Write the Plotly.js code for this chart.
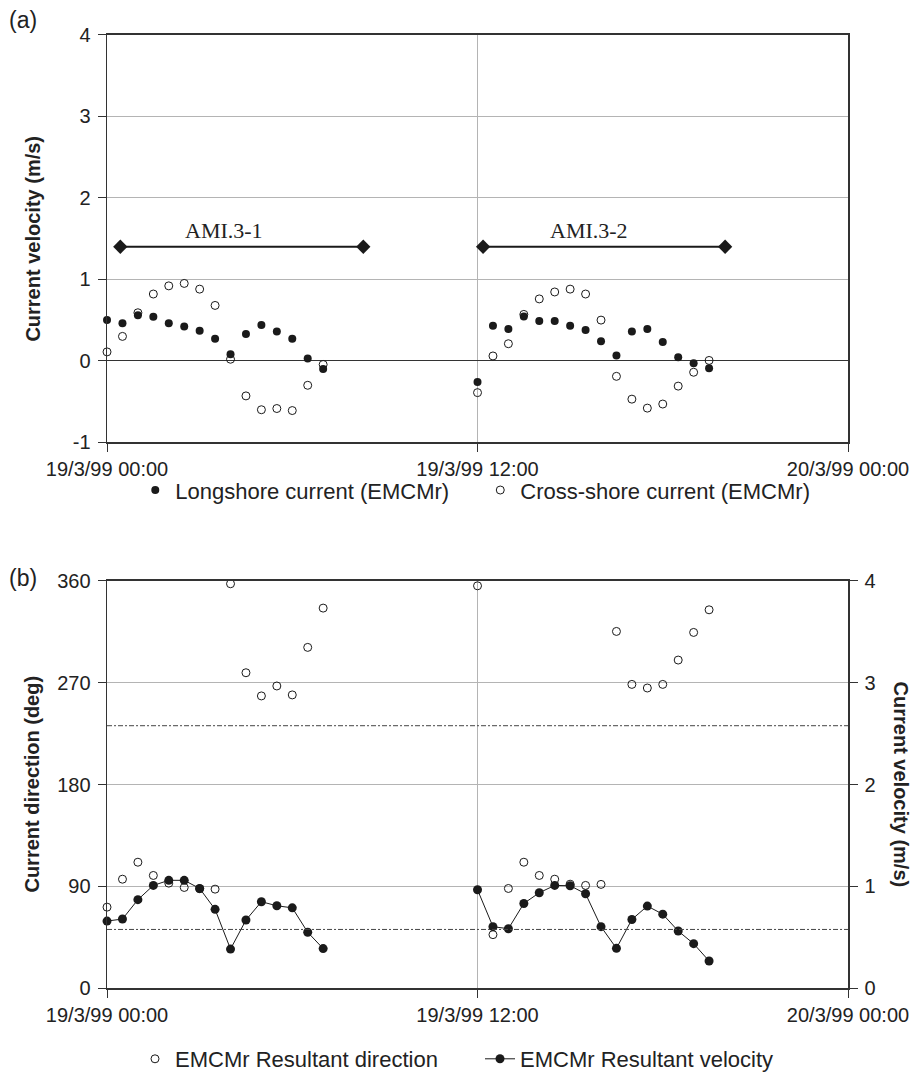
<!DOCTYPE html>
<html>
<head>
<meta charset="utf-8">
<script src="https://cdn.plot.ly/plotly-3.0.1.min.js"></script>
<style>
html,body{margin:0;padding:0;background:#fff;}
#chart{width:914px;height:1080px;}
</style>
</head>
<body>
<div id="chart"></div>
<script>
// ---- data (hours after 19/3/99 00:00) ----
var times1 = [0, 0.5, 1, 1.5, 2, 2.5, 3, 3.5, 4, 4.5, 5, 5.5, 6, 6.5, 7];
var times2 = [12, 12.5, 13, 13.5, 14, 14.5, 15, 15.5, 16, 16.5, 17, 17.5, 18, 18.5, 19, 19.5];

var longshore1 = [0.50, 0.46, 0.56, 0.54, 0.46, 0.42, 0.37, 0.27, 0.08, 0.33, 0.44, 0.36, 0.27, 0.03, -0.10];
var crossshore1 = [0.11, 0.30, 0.59, 0.82, 0.92, 0.95, 0.88, 0.68, 0.02, -0.43, -0.60, -0.585, -0.61, -0.30, -0.045];
var longshore2 = [-0.26, 0.43, 0.39, 0.545, 0.49, 0.49, 0.43, 0.38, 0.24, 0.065, 0.36, 0.39, 0.23, 0.045, -0.03, -0.09];
var crossshore2 = [-0.39, 0.06, 0.21, 0.57, 0.76, 0.845, 0.88, 0.82, 0.50, -0.19, -0.47, -0.58, -0.53, -0.31, -0.14, 0.005];

var direction1 = [71.7, 96.4, 111.4, 99.7, 92.9, 89.1, 88, 87.6, 357.4, 278.8, 258.3, 267.1, 259.2, 301.2, 335.9];
var velocity1 = [0.66, 0.68, 0.87, 1.01, 1.06, 1.06, 0.98, 0.775, 0.385, 0.67, 0.85, 0.81, 0.79, 0.55, 0.39];
var direction2 = [355.6, 47.4, 88.2, 111.4, 99.7, 96.4, 92, 90.9, 91.8, 315.3, 268.5, 265.3, 268.5, 290, 314.4, 334.4];
var velocity2 = [0.967, 0.605, 0.585, 0.833, 0.938, 1.01, 1.007, 0.928, 0.605, 0.392, 0.676, 0.807, 0.728, 0.562, 0.438, 0.268];

var amiLabels = ['AMI.3-1', 'AMI.3-2'];
var amiStart = [0.43, 12.18];
var amiEnd = [8.3, 20.02];
var amiLevel = [1.4, 1.4];
var amiLabelX = [3.8, 15.6];
var amiLabelY = [1.6, 1.6];

var refDirections = [52, 232];

var xTickVals = [0, 12, 24];
var xTickText = ['19/3/99 00:00', '19/3/99 12:00', '20/3/99 00:00'];
var velTickVals = [-1, 0, 1, 2, 3, 4];
var velTickText = ['-1', '0', '1', '2', '3', '4'];
var dirTickVals = [0, 90, 180, 270, 360];
var resTickVals = [0, 1, 2, 3, 4];

// ---- helpers ----
function joinGap(a, b) { return a.concat([null]).concat(b); }
var tAll = joinGap(times1, times2);

var INK = '#1a1a1a';
var AX = '#333333';
var GRID = '#b4b4b4';
var FONT = 'Liberation Sans, Arial, sans-serif';
var TXT = '#222';

var traces = [];
traces.push({
  x: tAll, y: joinGap(longshore1, longshore2), xaxis: 'x', yaxis: 'y',
  type: 'scatter', mode: 'markers', name: 'Longshore current (EMCMr)', legendwidth: 300,
  marker: {symbol: 'circle', size: 8, color: INK}, legend: 'legend', cliponaxis: false
});
traces.push({
  x: tAll, y: joinGap(crossshore1, crossshore2), xaxis: 'x', yaxis: 'y',
  type: 'scatter', mode: 'markers', name: 'Cross-shore current (EMCMr)',
  marker: {symbol: 'circle-open', size: 8, color: INK, line: {width: 1, color: INK}}, legend: 'legend', cliponaxis: false
});
for (var i = 0; i < amiLabels.length; i++) {
  traces.push({
    x: [amiStart[i], amiEnd[i]], y: [amiLevel[i], amiLevel[i]], xaxis: 'x', yaxis: 'y',
    type: 'scatter', mode: 'lines+markers', showlegend: false, hoverinfo: 'skip',
    line: {color: INK, width: 2}, marker: {symbol: 'diamond', size: 11, color: INK}
  });
}
traces.push({
  x: tAll, y: joinGap(direction1, direction2), xaxis: 'x2', yaxis: 'y2',
  type: 'scatter', mode: 'markers', name: 'EMCMr Resultant direction', legendwidth: 300,
  marker: {symbol: 'circle-open', size: 8, color: INK, line: {width: 1, color: INK}}, legend: 'legend2', cliponaxis: false
});
traces.push({
  x: tAll, y: joinGap(velocity1, velocity2), xaxis: 'x2', yaxis: 'y3',
  type: 'scatter', mode: 'lines+markers', name: 'EMCMr Resultant velocity',
  line: {color: INK, width: 1}, connectgaps: false,
  marker: {symbol: 'circle', size: 9, color: INK}, legend: 'legend2', cliponaxis: false
});

var annotations = [];
for (var j = 0; j < amiLabels.length; j++) {
  annotations.push({
    x: amiLabelX[j], y: amiLabelY[j], xref: 'x', yref: 'y', text: amiLabels[j],
    showarrow: false, font: {family: 'Liberation Serif, Times New Roman, serif', size: 22, color: TXT}
  });
}
annotations.push({x: 0.008, y: 0.9815, xref: 'paper', yref: 'paper', xanchor: 'left', yanchor: 'middle',
  text: '(a)', showarrow: false, font: {family: FONT, size: 23, color: TXT}});
annotations.push({x: 0.008, y: 0.4625, xref: 'paper', yref: 'paper', xanchor: 'left', yanchor: 'middle',
  text: '(b)', showarrow: false, font: {family: FONT, size: 23, color: TXT}});
// axis titles
annotations.push({x: 33 / 914, y: (0.5889 + 0.9676) / 2, xref: 'paper', yref: 'paper', textangle: -90,
  xanchor: 'center', yanchor: 'middle', showarrow: false,
  text: '<b>Current velocity (m/s)</b>', font: {family: FONT, size: 20, color: TXT}});
annotations.push({x: 32 / 914, y: (0.0815 + 0.4602) / 2, xref: 'paper', yref: 'paper', textangle: -90,
  xanchor: 'center', yanchor: 'middle', showarrow: false,
  text: '<b>Current direction (deg)</b>', font: {family: FONT, size: 20, color: TXT}});
annotations.push({x: 901 / 914, y: (0.0815 + 0.4602) / 2, xref: 'paper', yref: 'paper', textangle: 90,
  xanchor: 'center', yanchor: 'middle', showarrow: false,
  text: '<b>Current velocity (m/s)</b>', font: {family: FONT, size: 20, color: TXT}});

var shapes = refDirections.map(function (d) {
  return {type: 'line', xref: 'x2 domain', yref: 'y2', x0: 0, x1: 1, y0: d, y1: d,
    line: {color: '#444', width: 1, dash: '5px,2px,2px,2px'}};
});

var xCommon = {
  range: [0, 24], tickvals: xTickVals, ticktext: xTickText,
  showgrid: true, gridcolor: GRID, gridwidth: 1, zeroline: false,
  showline: true, linecolor: AX, linewidth: 1.5, mirror: true,
  ticks: 'outside', ticklen: 8, tickcolor: AX, tickfont: {family: FONT, size: 20, color: TXT},
  fixedrange: true
};
var yTickFont = {family: FONT, size: 20, color: TXT};

var layout = {
  width: 914, height: 1080,
  margin: {l: 0, r: 0, t: 0, b: 0},
  paper_bgcolor: '#fff', plot_bgcolor: '#fff',
  font: {family: FONT, color: TXT},
  showlegend: true,
  xaxis: Object.assign({}, xCommon, {domain: [0.1171, 0.9278], anchor: 'y'}),
  yaxis: {
    domain: [0.5889, 0.9676], anchor: 'x', range: [-1, 4], tickvals: velTickVals, ticktext: velTickText,
    showgrid: true, gridcolor: GRID, zeroline: true, zerolinecolor: AX, zerolinewidth: 1.2,
    showline: true, linecolor: AX, linewidth: 1.5, mirror: true,
    ticks: 'outside', ticklen: 8, tickcolor: AX, ticklabelstandoff: 3, tickfont: yTickFont
  },
  xaxis2: Object.assign({}, xCommon, {domain: [0.1171, 0.9278], anchor: 'y2'}),
  yaxis2: {
    domain: [0.0815, 0.4602], anchor: 'x2', range: [0, 360], tickvals: dirTickVals,
    showgrid: true, gridcolor: GRID, zeroline: false,
    showline: true, linecolor: AX, linewidth: 1.5, mirror: true,
    ticks: 'outside', ticklen: 8, tickcolor: AX, ticklabelstandoff: 3, tickfont: yTickFont
  },
  yaxis3: {
    overlaying: 'y2', side: 'right', anchor: 'x2', range: [0, 4], tickvals: resTickVals,
    showgrid: false, zeroline: false, showline: true, linecolor: AX, linewidth: 1.5,
    ticks: 'outside', ticklen: 8, tickcolor: AX, ticklabelstandoff: 3, tickfont: yTickFont
  },
  legend: {orientation: 'h', x: 0.52, xanchor: 'center', y: 0.5444, yanchor: 'middle',
    font: {family: FONT, size: 22, color: TXT}, bgcolor: 'rgba(0,0,0,0)', itemwidth: 30, traceorder: 'normal'},
  legend2: {orientation: 'h', x: 0.5, xanchor: 'center', y: 0.0157, yanchor: 'middle',
    font: {family: FONT, size: 22, color: TXT}, bgcolor: 'rgba(0,0,0,0)', itemwidth: 30, traceorder: 'normal'},
  annotations: annotations,
  shapes: shapes
};

Plotly.newPlot('chart', traces, layout, {staticPlot: true, displayModeBar: false});
</script>
</body>
</html>
